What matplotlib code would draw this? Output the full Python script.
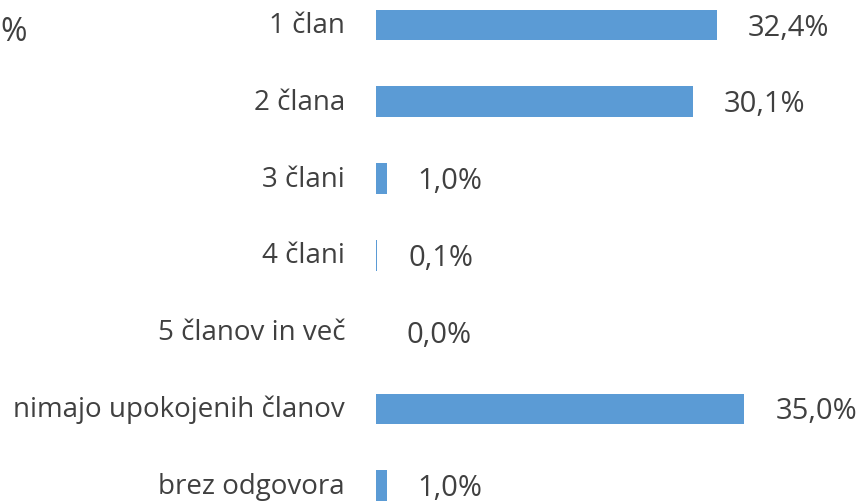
import matplotlib
matplotlib.use("Agg")
import matplotlib.pyplot as plt

# data
categories = ["1 član", "2 člana", "3 člani", "4 člani", "5 članov in več",
              "nimajo upokojenih članov", "brez odgovora"]
values = [32.4, 30.1, 1.0, 0.1, 0.0, 35.0, 1.0]
value_labels = ["32,4%", "30,1%", "1,0%", "0,1%", "0,0%", "35,0%", "1,0%"]

BAR_COLOR = "#5B9BD5"
TEXT_COLOR = "#404040"
FONT = ["Open Sans", "DejaVu Sans"]

W, H = 861, 502
fig = plt.figure(figsize=(W / 100, H / 100), dpi=100)

x0 = 376        # pixel where bars start
px_per_unit = 10.52
step = 76.8     # pixels between category centres
first = 26      # centre of first category from top

ax = fig.add_axes([x0 / W, 0, 1 - x0 / W, 1])
ax.barh(range(len(values)), values, height=0.40, color=BAR_COLOR)
ax.set_xlim(0, (W - x0) / px_per_unit)
ax.set_ylim((H - first) / step, -first / step)
ax.axis("off")

for i, (v, lab) in enumerate(zip(values, value_labels)):
    ax.annotate(lab, (v, i), xytext=(31, -2), textcoords="offset pixels",
                ha="left", va="center", fontsize=21, color=TEXT_COLOR,
                family=FONT)
    ax.annotate(categories[i], (0, i), xytext=(-31, 0), textcoords="offset pixels",
                ha="right", va="center", fontsize=20, color=TEXT_COLOR,
                family=FONT, annotation_clip=False)

# partly visible label from a neighbouring chart
fig.text(0, 1 - 33 / H, "%", ha="left", va="center", fontsize=23,
         color=TEXT_COLOR, family=FONT)

fig.savefig("out.png", dpi=100)
